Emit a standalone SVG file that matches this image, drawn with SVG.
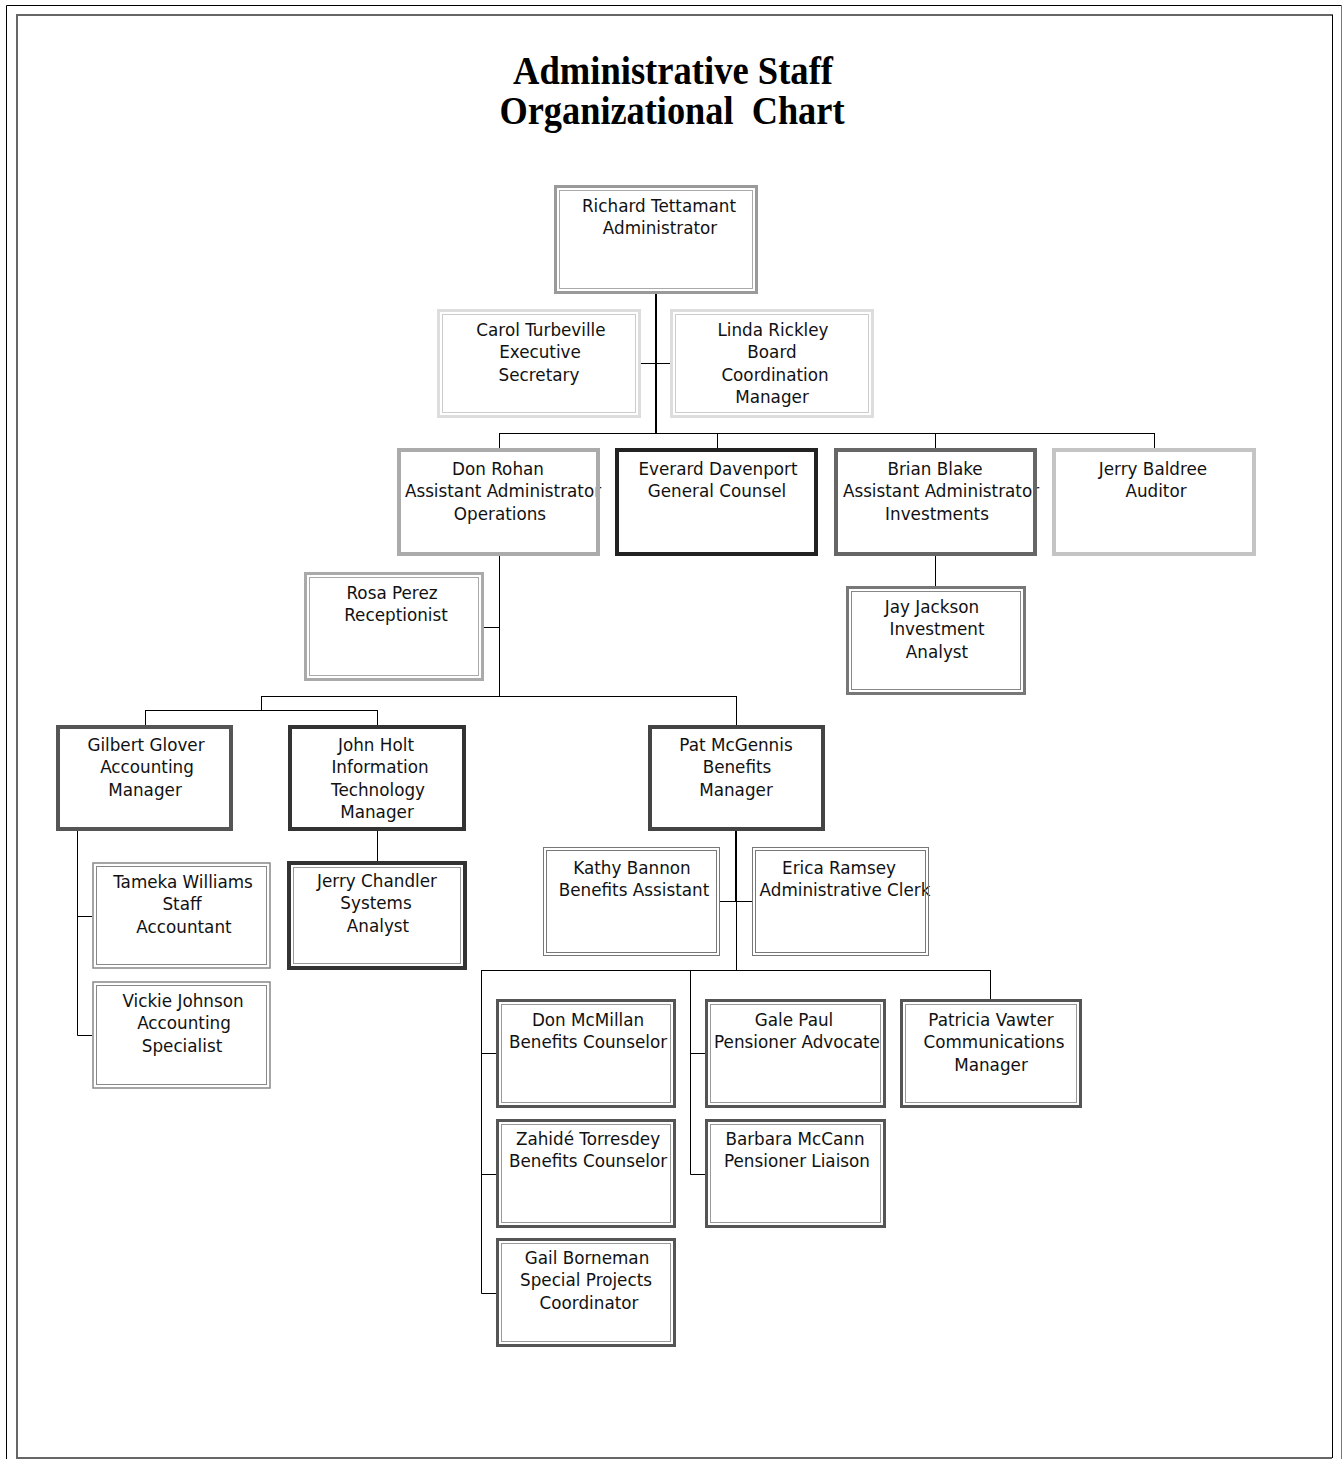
<svg xmlns="http://www.w3.org/2000/svg" width="1343" height="1459" viewBox="0 0 1343 1459">
<style>
.t{font-family:"DejaVu Sans","Liberation Sans",sans-serif;font-size:16.8px;fill:#111;text-anchor:middle}
.ttl{font-family:"Liberation Serif","Times New Roman",serif;font-weight:bold;font-size:39px;fill:#000;text-anchor:middle;white-space:pre}
.bg{fill:#fff;stroke:none}
.c{stroke:#000;stroke-width:1;fill:none}
.c2{stroke:#000;stroke-width:2;fill:none}
.o{fill:none}
</style>
<rect width="1343" height="1459" fill="#fff"/>
<g id="frame">
<path d="M6.5,1459 V5.5 H1341" stroke="#000" stroke-width="1" fill="none"/>
<path d="M1341.5,5 V1459" stroke="#777" stroke-width="1" fill="none"/>
<path d="M1333,15 H17 V1458 H1332" stroke="#666" stroke-width="2" fill="none"/>
<path d="M1332.5,15 V1458" stroke="#000" stroke-width="1" fill="none"/>
</g>
<g id="title">
<text class="ttl" x="673" y="84" textLength="320" lengthAdjust="spacingAndGlyphs">Administrative Staff</text>
<text class="ttl" x="672" y="124" textLength="345" lengthAdjust="spacingAndGlyphs">Organizational  Chart</text>
</g>
<g id="connectors">
<path class="c2" d="M656,294 V433"/>
<path class="c" d="M641,363.5 H670"/>
<path class="c" d="M499,433.5 H1154.5 M499.5,433 V448 M717.5,433 V448 M935.5,433 V448 M1154.5,433 V448"/>
<path class="c" d="M499.5,556 V696 M484,627.5 H499.5"/>
<path class="c" d="M935.5,556 V586"/>
<path class="c" d="M261,696.5 H736.5 M261.5,696 V710 M145,710.5 H377.5 M145.5,710 V725 M377.5,710 V725 M736.5,696 V725"/>
<path class="c" d="M77.5,831 V1035.5 H93 M77.5,916.5 H93"/>
<path class="c" d="M377.5,831 V861"/>
<path class="c2" d="M736,831 V901"/>
<path class="c" d="M736.5,901 V970 M720,901.5 H752"/>
<path class="c" d="M481,970.5 H990.5 M481.5,970 V1293.5 H497 M481.5,1053.5 H497 M481.5,1174.5 H497"/>
<path class="c" d="M690.5,970 V1174.5 H706 M690.5,1053.5 H706"/>
<path class="c" d="M990.5,970 V999"/>
</g>

<g id="n-richard">
<rect class="bg" x="554" y="185" width="204" height="109"/>
<text class="t" x="659" y="211.5">Richard Tettamant</text>
<text class="t" x="660" y="234">Administrator</text>
<rect class="o" x="555.5" y="186.5" width="201" height="106" stroke="#9a9a9a" stroke-width="3"/>
<rect class="o" x="559.5" y="190.5" width="193" height="98" stroke="#aaa" stroke-width="1"/>
</g>
<g id="n-carol">
<rect class="bg" x="437" y="309" width="204" height="109"/>
<text class="t" x="541" y="335.5">Carol Turbeville</text>
<text class="t" x="540" y="358">Executive</text>
<text class="t" x="539" y="380.5">Secretary</text>
<rect class="o" x="438.5" y="310.5" width="201" height="106" stroke="#ddd" stroke-width="3"/>
<rect class="o" x="442.5" y="314.5" width="193" height="98" stroke="#ccc" stroke-width="1"/>
</g>
<g id="n-linda">
<rect class="bg" x="670" y="309" width="204" height="109"/>
<text class="t" x="773" y="335.5">Linda Rickley</text>
<text class="t" x="772" y="358">Board</text>
<text class="t" x="775" y="380.5">Coordination</text>
<text class="t" x="772" y="403">Manager</text>
<rect class="o" x="671.5" y="310.5" width="201" height="106" stroke="#ddd" stroke-width="3"/>
<rect class="o" x="675.5" y="314.5" width="193" height="98" stroke="#ccc" stroke-width="1"/>
</g>
<g id="n-donrohan">
<rect class="bg" x="397" y="448" width="203" height="108"/>
<text class="t" x="498" y="474.5">Don Rohan</text>
<text class="t" x="503" y="497">Assistant Administrator</text>
<text class="t" x="500" y="519.5">Operations</text>
<rect class="o" x="399" y="450" width="199" height="104" stroke="#ababab" stroke-width="4"/>
</g>
<g id="n-everard">
<rect class="bg" x="615" y="448" width="203" height="108"/>
<text class="t" x="718" y="474.5">Everard Davenport</text>
<text class="t" x="717" y="497">General Counsel</text>
<rect class="o" x="617" y="450" width="199" height="104" stroke="#222" stroke-width="4"/>
</g>
<g id="n-brian">
<rect class="bg" x="834" y="448" width="203" height="108"/>
<text class="t" x="935" y="474.5">Brian Blake</text>
<text class="t" x="941" y="497">Assistant Administrator</text>
<text class="t" x="937" y="519.5">Investments</text>
<rect class="o" x="836" y="450" width="199" height="104" stroke="#666" stroke-width="4"/>
</g>
<g id="n-baldree">
<rect class="bg" x="1052" y="448" width="204" height="108"/>
<text class="t" x="1153" y="474.5">Jerry Baldree</text>
<text class="t" x="1156" y="497">Auditor</text>
<rect class="o" x="1054" y="450" width="200" height="104" stroke="#c4c4c4" stroke-width="4"/>
</g>
<g id="n-rosa">
<rect class="bg" x="304" y="572" width="180" height="109"/>
<text class="t" x="392" y="598.5">Rosa Perez</text>
<text class="t" x="396" y="621">Receptionist</text>
<rect class="o" x="305.5" y="573.5" width="177" height="106" stroke="#aaa" stroke-width="3"/>
<rect class="o" x="309.5" y="577.5" width="169" height="98" stroke="#aaa" stroke-width="1"/>
</g>
<g id="n-jay">
<rect class="bg" x="846" y="586" width="180" height="109"/>
<text class="t" x="932" y="612.5">Jay Jackson</text>
<text class="t" x="937" y="635">Investment</text>
<text class="t" x="937" y="657.5">Analyst</text>
<rect class="o" x="847.5" y="587.5" width="177" height="106" stroke="#777" stroke-width="3"/>
<rect class="o" x="851.5" y="591.5" width="169" height="98" stroke="#888" stroke-width="1"/>
</g>
<g id="n-gilbert">
<rect class="bg" x="56" y="725" width="177" height="106"/>
<text class="t" x="146" y="750.5">Gilbert Glover</text>
<text class="t" x="147" y="773">Accounting</text>
<text class="t" x="145" y="795.5">Manager</text>
<rect class="o" x="58" y="727" width="173" height="102" stroke="#555" stroke-width="4"/>
</g>
<g id="n-johnholt">
<rect class="bg" x="288" y="725" width="178" height="106"/>
<text class="t" x="376" y="750.5">John Holt</text>
<text class="t" x="380" y="773">Information</text>
<text class="t" x="378" y="795.5">Technology</text>
<text class="t" x="377" y="818">Manager</text>
<rect class="o" x="290" y="727" width="174" height="102" stroke="#333" stroke-width="4"/>
</g>
<g id="n-tameka">
<rect class="bg" x="92" y="862" width="179" height="107"/>
<text class="t" x="183" y="887.5">Tameka Williams</text>
<text class="t" x="182" y="910">Staff</text>
<text class="t" x="184" y="932.5">Accountant</text>
<rect class="o" x="93" y="863" width="177" height="105" stroke="#888" stroke-width="1.5"/>
<rect class="o" x="96.5" y="866.5" width="170" height="98" stroke="#888" stroke-width="1"/>
</g>
<g id="n-vickie">
<rect class="bg" x="92" y="981" width="179" height="108"/>
<text class="t" x="183" y="1006.5">Vickie Johnson</text>
<text class="t" x="184" y="1029">Accounting</text>
<text class="t" x="182" y="1051.5">Specialist</text>
<rect class="o" x="93" y="982" width="177" height="106" stroke="#888" stroke-width="1.5"/>
<rect class="o" x="96.5" y="985.5" width="170" height="99" stroke="#888" stroke-width="1"/>
</g>
<g id="n-jerrychandler">
<rect class="bg" x="287" y="861" width="180" height="109"/>
<text class="t" x="377" y="886.5">Jerry Chandler</text>
<text class="t" x="376" y="909">Systems</text>
<text class="t" x="378" y="931.5">Analyst</text>
<rect class="o" x="289" y="863" width="176" height="105" stroke="#333" stroke-width="4"/>
<rect class="o" x="293.5" y="867.5" width="167" height="96" stroke="#999" stroke-width="1"/>
</g>
<g id="n-pat">
<rect class="bg" x="648" y="725" width="177" height="106"/>
<text class="t" x="736" y="750.5">Pat McGennis</text>
<text class="t" x="737" y="773">Benefits</text>
<text class="t" x="736" y="795.5">Manager</text>
<rect class="o" x="650" y="727" width="173" height="102" stroke="#444" stroke-width="4"/>
</g>
<g id="n-kathy">
<rect class="bg" x="543" y="847" width="177" height="109"/>
<text class="t" x="632" y="873.5">Kathy Bannon</text>
<text class="t" x="634" y="896">Benefits Assistant</text>
<rect class="o" x="543.5" y="847.5" width="176" height="108" stroke="#777" stroke-width="1"/>
<rect class="o" x="546.5" y="850.5" width="170" height="102" stroke="#777" stroke-width="1"/>
</g>
<g id="n-erica">
<rect class="bg" x="752" y="847" width="177" height="109"/>
<text class="t" x="839" y="873.5">Erica Ramsey</text>
<text class="t" x="845" y="896">Administrative Clerk</text>
<rect class="o" x="752.5" y="847.5" width="176" height="108" stroke="#777" stroke-width="1"/>
<rect class="o" x="755.5" y="850.5" width="170" height="102" stroke="#777" stroke-width="1"/>
</g>
<g id="n-donmcmillan">
<rect class="bg" x="496" y="999" width="180" height="109"/>
<text class="t" x="588" y="1025.5">Don McMillan</text>
<text class="t" x="588" y="1048">Benefits Counselor</text>
<rect class="o" x="497.5" y="1000.5" width="177" height="106" stroke="#555" stroke-width="3"/>
<rect class="o" x="501.5" y="1004.5" width="169" height="98" stroke="#999" stroke-width="1"/>
</g>
<g id="n-zahide">
<rect class="bg" x="496" y="1119" width="180" height="109"/>
<text class="t" x="588" y="1144.5">Zahidé Torresdey</text>
<text class="t" x="588" y="1167">Benefits Counselor</text>
<rect class="o" x="497.5" y="1120.5" width="177" height="106" stroke="#555" stroke-width="3"/>
<rect class="o" x="501.5" y="1124.5" width="169" height="98" stroke="#999" stroke-width="1"/>
</g>
<g id="n-gail">
<rect class="bg" x="496" y="1238" width="180" height="109"/>
<text class="t" x="587" y="1263.5">Gail Borneman</text>
<text class="t" x="586" y="1286">Special Projects</text>
<text class="t" x="589" y="1308.5">Coordinator</text>
<rect class="o" x="497.5" y="1239.5" width="177" height="106" stroke="#555" stroke-width="3"/>
<rect class="o" x="501.5" y="1243.5" width="169" height="98" stroke="#999" stroke-width="1"/>
</g>
<g id="n-galepaul">
<rect class="bg" x="705" y="999" width="181" height="109"/>
<text class="t" x="794" y="1025.5">Gale Paul</text>
<text class="t" x="797" y="1048">Pensioner Advocate</text>
<rect class="o" x="706.5" y="1000.5" width="178" height="106" stroke="#555" stroke-width="3"/>
<rect class="o" x="710.5" y="1004.5" width="170" height="98" stroke="#999" stroke-width="1"/>
</g>
<g id="n-barbara">
<rect class="bg" x="705" y="1119" width="181" height="109"/>
<text class="t" x="795" y="1144.5">Barbara McCann</text>
<text class="t" x="797" y="1167">Pensioner Liaison</text>
<rect class="o" x="706.5" y="1120.5" width="178" height="106" stroke="#555" stroke-width="3"/>
<rect class="o" x="710.5" y="1124.5" width="170" height="98" stroke="#999" stroke-width="1"/>
</g>
<g id="n-patricia">
<rect class="bg" x="900" y="999" width="182" height="109"/>
<text class="t" x="991" y="1025.5">Patricia Vawter</text>
<text class="t" x="994" y="1048">Communications</text>
<text class="t" x="991" y="1070.5">Manager</text>
<rect class="o" x="901.5" y="1000.5" width="179" height="106" stroke="#555" stroke-width="3"/>
<rect class="o" x="905.5" y="1004.5" width="171" height="98" stroke="#999" stroke-width="1"/>
</g>
</svg>
